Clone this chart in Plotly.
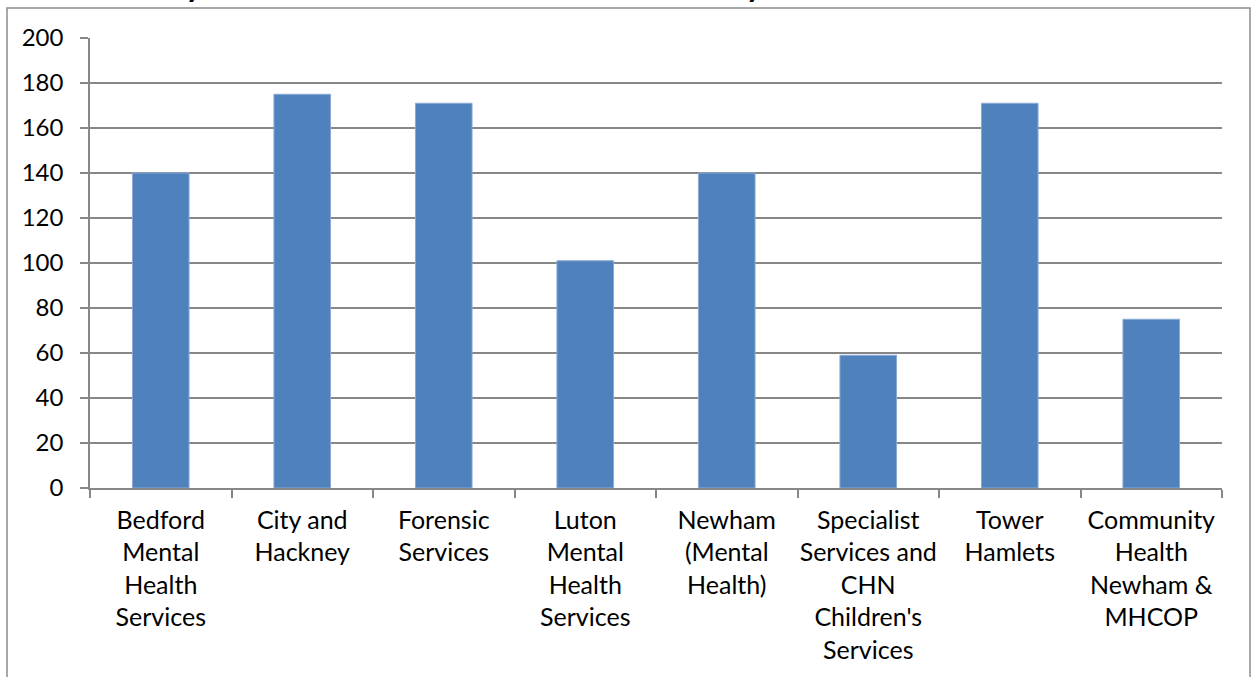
import plotly.graph_objects as go

# Physical violence towards staff incidents, per directorate
directorates = [
    "Bedford<br>Mental<br>Health<br>Services",
    "City and<br>Hackney",
    "Forensic<br>Services",
    "Luton<br>Mental<br>Health<br>Services",
    "Newham<br>(Mental<br>Health)",
    "Specialist<br>Services and<br>CHN<br>Children's<br>Services",
    "Tower<br>Hamlets",
    "Community<br>Health<br>Newham &<br>MHCOP",
]
incidents = [140, 175, 171, 101, 140, 59, 171, 75]
y_ticks = [0, 20, 40, 60, 80, 100, 120, 140, 160, 180, 200]

title_text = "Chart 10: Physical violence towards staff incidents by directorate"

FONT = "Lato, 'Open Sans', sans-serif"
GRID = "#878787"
BAR = "#4f81bd"

fig = go.Figure(
    go.Bar(
        x=directorates,
        y=incidents,
        marker=dict(color=BAR, line=dict(color="#8aaad6", width=1)),
        width=0.4,
        hoverinfo="x+y",
    )
)

W, H = 1252, 677
L, R, T, B = 90, 30, 38, 189
pw, ph = W - L - R, H - T - B


def px_x(p):
    return (p - L) / pw


def px_y(p):
    return (H - B - p) / ph


fig.update_layout(
    width=W,
    height=H,
    margin=dict(l=L, r=R, t=T, b=B, pad=0, autoexpand=False),
    paper_bgcolor="white",
    plot_bgcolor="white",
    font=dict(family=FONT, size=25, color="black"),
    showlegend=False,
    bargap=0.6,
)

fig.update_xaxes(
    type="category",
    automargin=False,
    tickangle=0,
    showline=True,
    linecolor=GRID,
    linewidth=1.5,
    ticks="outside",
    tickson="boundaries",
    ticklen=8,
    tickcolor=GRID,
    tickwidth=1.5,
    showgrid=False,
    tickfont=dict(family=FONT, size=25, color="black"),
    ticklabelstandoff=9,
)

fig.update_yaxes(
    automargin=False,
    range=[0, 200],
    tickvals=y_ticks,
    ticktext=[str(v) for v in y_ticks],
    showline=True,
    linecolor=GRID,
    linewidth=1.5,
    ticks="outside",
    ticklen=8,
    tickcolor=GRID,
    tickwidth=1.5,
    showgrid=True,
    gridcolor=GRID,
    gridwidth=1.5,
    zeroline=False,
    tickfont=dict(family=FONT, size=24, color="black"),
    ticklabelstandoff=12,
)

# Chart frame
fig.add_shape(
    type="rect",
    xref="paper",
    yref="paper",
    x0=px_x(7),
    x1=px_x(1250),
    y0=px_y(700),
    y1=px_y(8),
    line=dict(color="#8c8c8c", width=1.5),
    fillcolor="rgba(0,0,0,0)",
    layer="below",
)

# Heading sitting above the frame
fig.add_annotation(
    text="<b>" + title_text + "</b>",
    xref="paper",
    yref="paper",
    x=px_x(6),
    y=px_y(3),
    xanchor="left",
    yanchor="bottom",
    showarrow=False,
    font=dict(family=FONT, size=32, color="black"),
    yshift=-3,
)

fig.write_html("out.html")
